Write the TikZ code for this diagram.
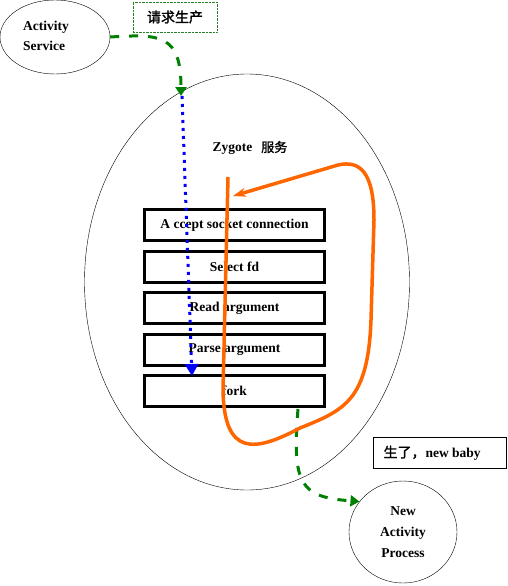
\documentclass[tikz,border=0pt]{standalone}
\usepackage{fontspec}
\setmainfont{Liberation Serif}
\newfontfamily\cjk[FakeBold=1.5]{Noto Sans CJK SC}
\usetikzlibrary{shapes.geometric,arrows.meta}
\definecolor{zorange}{RGB}{255,102,0}
\definecolor{zgreen}{RGB}{0,128,0}

\begin{document}
\begin{tikzpicture}[x=1pt,y=-1pt,
        lbl/.style={font=\bfseries\fontsize{13.5}{20}\selectfont},
        stage/.style={draw,line width=3pt,minimum width=180pt,minimum height=31pt,inner sep=0pt,lbl},
        gflow/.style={zgreen,line width=3pt,dash pattern=on 9pt off 10pt,-{Triangle[length=9pt,width=11pt]}}]
        \useasboundingbox (0,0) rectangle (507,586);
        % callers and result
        \node[ellipse,draw,minimum width=110pt,minimum height=74pt] (as) at (55,37) {};
        \node[lbl,align=left] (astxt) at (46,36) {Activity\\Service};
        \node[draw=zgreen!70!gray,densely dotted,minimum width=84pt,minimum height=30pt,font=\cjk\fontsize{14}{14}\selectfont] (req) at (175,17) {请求生产};
        \node[ellipse,draw,minimum width=325pt,minimum height=416pt] (zyg) at (247,282) {};
        \node[lbl,anchor=west] (zname) at (209,148) {Zygote\hspace{9pt}{\cjk\mdseries\fontsize{13}{13}\selectfont 服务}};
        % the five steps
        \foreach \t [count=\i] in {A ccept socket connection,Select fd,Read argument,Parse argument,fork} {
            \node[stage] (s\i) at (234.5,{225+41.5*(\i-1)}) {\t};
        }
        \node[draw,minimum width=133pt,minimum height=31pt,inner sep=0pt] (baby) at (440,453) {};
        \node[lbl,anchor=west] (babytxt) at (380,453) {{\cjk\mdseries\fontsize{14}{14}\selectfont 生了，}new baby};
        \node[ellipse,draw,minimum width=108pt,minimum height=102pt,align=center,font=\bfseries\fontsize{13.5}{21}\selectfont] (new) at (403,532) {New\\Activity\\Process};
        % request path
        \coordinate (blue0) at (182,96);
        \coordinate (blue1) at (192,376);
        \coordinate (g1) at (181,96);
        \coordinate (g2) at (298,409);
        \draw[gflow] (as.east) .. controls (160,34) and (181,34) .. (g1);
        \draw[blue,line width=3pt,dash pattern=on 3pt off 5pt,-{Triangle[length=12pt,width=13pt]}] (blue0) -- (blue1);
        \draw[gflow] (g2) .. controls (292,485) and (300,497) .. (new.145);
        % loop
        \coordinate (o0) at (228,177);
        \coordinate (o1) at (233,196);
        \draw[zorange,line width=3.5pt,-{Stealth[length=13pt,width=9pt]}] (o0) -- (223,390) .. controls (224,457) and (255,452) .. (300,428) .. controls (345,410) and (368,400) .. (371,320) -- (374,220) .. controls (374,172) and (360,160) .. (338,165) -- (o1);
\end{tikzpicture}
\end{document}
